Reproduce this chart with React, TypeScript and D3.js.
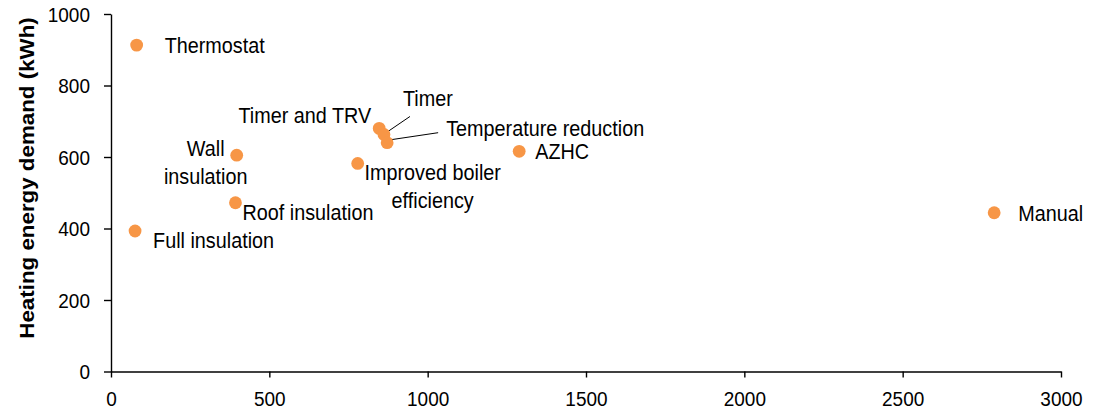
import { useRef, useEffect } from "react";
import * as d3 from "d3";

// measures, savings (x) vs heating demand (y)
const names = [
  "Thermostat",
  "Timer and TRV",
  "Timer",
  "Temperature reduction",
  "Wall insulation",
  "Roof insulation",
  "Full insulation",
  "Improved boiler efficiency",
  "AZHC",
  "Manual",
];
const xValues = [81, 847, 862, 872, 397, 393, 76, 779, 1289, 2789];
const yValues = [913, 680, 663, 640, 605, 472, 393, 582, 616, 444];
const xTicks = [0, 500, 1000, 1500, 2000, 2500, 3000];
const yTicks = [0, 200, 400, 600, 800, 1000];
const yTitle = "Heating energy demand (kWh)";

// label placement (pixels relative to each dot)
const labelLayout: Record<
  string,
  { lines: string[]; dx: number; dy: number; anchor: string; leader?: [number, number, number, number] }
> = {
  Thermostat: { lines: ["Thermostat"], dx: 28, dy: 0, anchor: "start" },
  "Timer and TRV": { lines: ["Timer and TRV"], dx: -8, dy: -13, anchor: "end" },
  Timer: { lines: ["Timer"], dx: 19, dy: -36, anchor: "start", leader: [4, -3, 26, -18] },
  "Temperature reduction": {
    lines: ["Temperature reduction"],
    dx: 59,
    dy: -15,
    anchor: "start",
    leader: [4, -3, 51, -10],
  },
  "Wall insulation": { lines: ["Wall", "insulation"], dx: -31, dy: -7, anchor: "middle" },
  "Roof insulation": { lines: ["Roof insulation"], dx: 7, dy: 9, anchor: "start" },
  "Full insulation": { lines: ["Full insulation"], dx: 18, dy: 9, anchor: "start" },
  "Improved boiler efficiency": {
    lines: ["Improved boiler", "efficiency"],
    dx: 75,
    dy: 9,
    anchor: "middle",
  },
  AZHC: { lines: ["AZHC"], dx: 16, dy: 0, anchor: "start" },
  Manual: { lines: ["Manual"], dx: 24, dy: 0, anchor: "start" },
};

const W = 1093;
const H = 414;
const FONT = "'Liberation Sans', Arial, sans-serif";
const FS = 19.8;
const SY = 1.12; // text is a bit taller than wide in the source
const DOT = "#F79646";

const App = () => {
  const svgRef = useRef<SVGSVGElement | null>(null);

  useEffect(() => {
    document.body.style.margin = "0";
    if (!svgRef.current) return;
    const svg = d3.select(svgRef.current);
    svg.selectAll("*").remove();

    const x = d3.scaleLinear().domain([0, 3000]).range([111, 1061]);
    const y = d3.scaleLinear().domain([0, 1000]).range([371.5, 14]);

    // x axis
    const gx = svg
      .append("g")
      .attr("transform", `translate(0,${y(0)})`)
      .call(d3.axisBottom(x).tickValues(xTicks).tickSize(6).tickSizeOuter(0).tickFormat(d3.format("d")));
    // y axis
    const gy = svg
      .append("g")
      .attr("transform", `translate(${x(0)},0)`)
      .call(d3.axisLeft(y).tickValues(yTicks).tickSize(7).tickSizeOuter(0).tickFormat(d3.format("d")));

    [gx, gy].forEach((g) => {
      g.select(".domain").attr("stroke", "#000").attr("stroke-width", 1.4);
      g.selectAll(".tick line").attr("stroke", "#000").attr("stroke-width", 1.4);
      g.selectAll(".tick text")
        .attr("font-family", FONT)
        .attr("font-size", 19)
        .attr("fill", "#000")
        .attr("dominant-baseline", "central")
        .attr("dy", 0)
        .attr("transform", `scale(1,1.1)`);
    });
    gx.selectAll(".tick text").attr("y", 27.5 / 1.1);
    gy.selectAll(".tick text").attr("x", -21);
    gx.attr("font-family", null).attr("font-size", null);
    gy.attr("font-family", null).attr("font-size", null);

    // y title
    svg
      .append("text")
      .attr("transform", `translate(27,178) rotate(-90) scale(1.09,1)`)
      .attr("text-anchor", "middle")
      .attr("dominant-baseline", "central")
      .attr("font-family", FONT)
      .attr("font-size", 20.5)
      .attr("font-weight", "bold")
      .attr("fill", "#000")
      .text(yTitle);

    const pts = names.map((n, i) => ({ name: n, x: x(xValues[i]), y: y(yValues[i]) }));

    // leader lines
    pts.forEach((p) => {
      const l = labelLayout[p.name].leader;
      if (!l) return;
      svg
        .append("line")
        .attr("x1", p.x + l[0])
        .attr("y1", p.y + l[1])
        .attr("x2", p.x + l[2])
        .attr("y2", p.y + l[3])
        .attr("stroke", "#000")
        .attr("stroke-width", 1);
    });

    // dots
    svg
      .append("g")
      .selectAll("circle")
      .data(pts)
      .enter()
      .append("circle")
      .attr("cx", (d) => d.x)
      .attr("cy", (d) => d.y)
      .attr("r", 6.4)
      .attr("fill", DOT);

    // labels
    pts.forEach((p) => {
      const lay = labelLayout[p.name];
      lay.lines.forEach((line, k) => {
        svg
          .append("text")
          .attr("transform", `translate(${p.x + lay.dx},${p.y + lay.dy + k * 27.5}) scale(1,${SY})`)
          .attr("text-anchor", lay.anchor)
          .attr("dominant-baseline", "central")
          .attr("font-family", FONT)
          .attr("font-size", FS)
          .attr("fill", "#000")
          .text(line);
      });
    });
  }, []);

  return <svg ref={svgRef} width={W} height={H} style={{ display: "block", background: "#fff" }}></svg>;
};

export default App;
